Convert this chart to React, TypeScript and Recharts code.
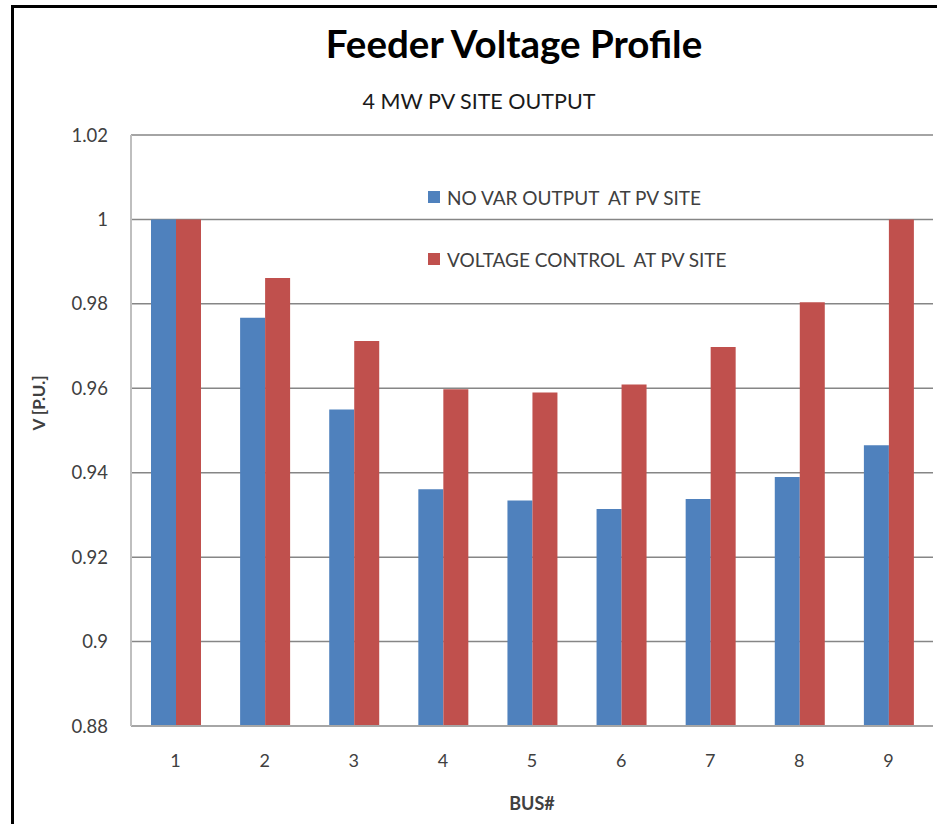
import React from "react";
import { BarChart, Bar, XAxis, YAxis, CartesianGrid, Legend } from "recharts";

const buses = ["1", "2", "3", "4", "5", "6", "7", "8", "9"];
const noVar = [1.0, 0.9767, 0.955, 0.9361, 0.9334, 0.9314, 0.9338, 0.939, 0.9465];
const voltCtrl = [1.0, 0.9861, 0.9712, 0.9598, 0.959, 0.9609, 0.9698, 0.9804, 1.0];
const yTicks = [0.88, 0.9, 0.92, 0.94, 0.96, 0.98, 1, 1.02];

const rows = buses.map((b, i) => ({ bus: b, noVar: noVar[i], voltCtrl: voltCtrl[i] }));

const FONT = "Lato, 'Open Sans', sans-serif";
const TEXT = "#404040";

function LegendBox(props: any) {
  const items = props.payload || [];
  return (
    <div style={{ fontFamily: FONT, fontSize: 19, color: TEXT }}>
      {items.map((it: any) => (
        <div key={it.value} style={{ display: "flex", alignItems: "center", height: 62, whiteSpace: "pre" }}>
          <span style={{ width: 12, height: 12, background: it.color, marginRight: 7, display: "inline-block" }} />
          <span>{it.value}</span>
        </div>
      ))}
    </div>
  );
}

export default function App() {
  return (
    <div style={{ position: "absolute", left: 0, top: 0, width: 937, height: 824, background: "#fff", overflow: "hidden" }}>
      <div style={{ position: "absolute", left: 11, top: 5, width: 960, height: 860, borderLeft: "3px solid #000", borderTop: "3px solid #000" }} />
      <div style={{ position: "absolute", left: 0, width: 1028, top: 20, textAlign: "center", fontFamily: FONT, fontWeight: 700, fontSize: 38.5, color: "#000" }}>
        Feeder Voltage Profile
      </div>
      <div style={{ position: "absolute", left: 0, width: 958, top: 88, textAlign: "center", fontFamily: FONT, fontSize: 21.5, color: "#1a1a1a" }}>
        4 MW PV SITE OUTPUT
      </div>
      <BarChart
        width={937}
        height={824}
        data={rows}
        margin={{ top: 135, right: 4, bottom: 8, left: 20 }}
        barGap={0}
        barSize={25}
        style={{ position: "absolute", left: 0, top: 0 }}
      >
        <CartesianGrid vertical={false} stroke="#868686" strokeWidth={1.5} />
        <XAxis
          dataKey="bus"
          height={90}
          tickLine={false}
          tickSize={0}
          tickMargin={28}
          axisLine={{ stroke: "#a6a6a6", strokeWidth: 2 }}
          tick={{ fontSize: 18, fill: TEXT, fontFamily: FONT }}
          label={{ value: "BUS#", position: "insideBottom", offset: 6, fontSize: 18, fontWeight: 700, fill: TEXT, fontFamily: FONT }}
        />
        <YAxis
          width={111}
          domain={[0.88, 1.02]}
          ticks={yTicks}
          tickLine={false}
          tickSize={0}
          tickMargin={23}
          axisLine={{ stroke: "#bfbfbf", strokeWidth: 2 }}
          tick={{ fontSize: 18.5, fill: TEXT, fontFamily: FONT }}
          label={{ value: "V [P.U.]", angle: -90, position: "insideLeft", offset: 19, fontSize: 17, fontWeight: 700, fill: TEXT, fontFamily: FONT }}
        />
        <Legend layout="horizontal" verticalAlign="middle" align="center" content={<LegendBox />} wrapperStyle={{ left: 428, top: 166, width: 380 }} />
        <Bar dataKey="noVar" name="NO VAR OUTPUT  AT PV SITE" fill="#4f81bd" isAnimationActive={false} />
        <Bar dataKey="voltCtrl" name="VOLTAGE CONTROL  AT PV SITE" fill="#c0504d" isAnimationActive={false} />
      </BarChart>
    </div>
  );
}
